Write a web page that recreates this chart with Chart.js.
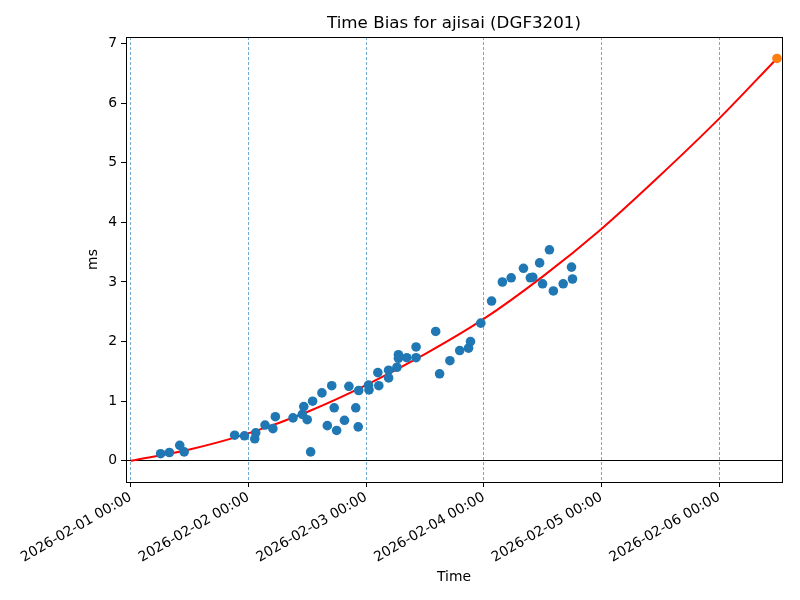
<!DOCTYPE html>
<html>
<head>
<meta charset="utf-8">
<title>Time Bias for ajisai (DGF3201)</title>
<script src="https://cdn.jsdelivr.net/npm/chart.js@4.4.1/dist/chart.umd.min.js"></script>
<style>
  html, body { margin: 0; padding: 0; background: #fff; }
  #wrap { width: 800px; height: 600px; }
</style>
</head>
<body>
<div id="wrap"><canvas id="biasChart" width="800" height="600"></canvas></div>
<script>
// observation times, hours since 2026-02-01 00:00 (UTC)
const obsHours = [6.1, 7.9, 10.0, 10.9, 21.2, 23.2, 25.3, 25.5, 27.4, 29.0,
    29.5, 33.1, 35.0, 35.3, 36.0, 36.7, 37.1, 39.0, 40.1, 41.0,
    41.5, 42.0, 43.6, 44.5, 45.9, 46.4, 46.5, 48.5, 48.6, 50.4,
    50.6, 52.6, 52.6, 54.3, 54.6, 54.6, 56.3, 58.2, 58.2, 62.2,
    63.0, 65.1, 67.1, 68.9, 69.3, 71.4, 73.6, 75.8, 77.6, 80.1,
    81.5, 82.0, 83.4, 84.0, 85.4, 86.2, 88.2, 89.9, 90.1];
// measured time bias (ms)
const obsBiasMs = [0.12, 0.14, 0.26, 0.15, 0.43, 0.42, 0.37, 0.47, 0.60, 0.54,
    0.74, 0.72, 0.78, 0.91, 0.69, 0.15, 1.00, 1.14, 0.59, 1.26,
    0.89, 0.51, 0.68, 1.25, 0.89, 0.57, 1.18, 1.27, 1.19, 1.48,
    1.26, 1.52, 1.39, 1.57, 1.78, 1.72, 1.73, 1.91, 1.73, 2.17,
    1.46, 1.68, 1.85, 1.89, 2.00, 2.31, 2.68, 3.00, 3.07, 3.23,
    3.07, 3.08, 3.32, 2.97, 3.54, 2.85, 2.97, 3.25, 3.05];

// fitted trend (red curve)
const fitHours = [0, 12, 24, 36, 48, 60, 72, 84, 96, 108, 120, 131.8];
const fitBiasMs = [0, 0.19, 0.46, 0.82, 1.27, 1.79, 2.38, 3.09, 3.89, 4.79, 5.74, 6.75];

// predicted value at end of trend
const predHours = [131.8];
const predBiasMs = [6.75];

const dayTicks = [0, 24, 48, 72, 96, 120];
const msTicks = [0, 1, 2, 3, 4, 5, 6, 7];

const FONT = "'DejaVu Sans', sans-serif";

function toPoints(xs, ys) {
    return xs.map((x, i) => ({ x: x, y: ys[i] }));
}

function fmtTime(h) {
    const d = new Date(Date.UTC(2026, 1, 1) + h * 3600000);
    const p = n => String(n).padStart(2, '0');
    return d.getUTCFullYear() + '-' + p(d.getUTCMonth() + 1) + '-' + p(d.getUTCDate()) +
        ' ' + p(d.getUTCHours()) + ':' + p(d.getUTCMinutes());
}

// black box round the plot area, like the axes spines
// also centres the title over the plot area instead of the canvas
const framePlugin = {
    id: 'frame',
    afterLayout(chart) {
        if (chart.titleBlock) {
            chart.titleBlock.left = chart.chartArea.left;
            chart.titleBlock.right = chart.chartArea.right;
        }
    },
    afterDraw(chart) {
        const a = chart.chartArea;
        const ctx = chart.ctx;
        ctx.save();
        ctx.strokeStyle = '#000';
        ctx.lineWidth = 1;
        ctx.strokeRect(Math.round(a.left) + 0.5, Math.round(a.top) + 0.5,
            Math.round(a.right - a.left), Math.round(a.bottom - a.top));
        ctx.restore();
    }
};

new Chart(document.getElementById('biasChart'), {
    type: 'scatter',
    data: {
        datasets: [
            {
                label: 'fit',
                data: toPoints(fitHours, fitBiasMs),
                showLine: true,
                borderColor: '#ff0000',
                borderWidth: 2,
                pointRadius: 0,
                cubicInterpolationMode: 'monotone',
                order: 3
            },
            {
                label: 'observed',
                data: toPoints(obsHours, obsBiasMs),
                backgroundColor: '#1f77b4',
                borderColor: '#1f77b4',
                borderWidth: 0,
                pointRadius: 4.8,
                order: 2
            },
            {
                label: 'predicted',
                data: toPoints(predHours, predBiasMs),
                backgroundColor: '#ff7f0e',
                borderColor: '#ff7f0e',
                borderWidth: 0,
                pointRadius: 4.8,
                order: 1
            }
        ]
    },
    options: {
        responsive: false,
        animation: false,
        devicePixelRatio: 1,
        layout: { padding: { left: 0, right: 18, top: 0, bottom: 0 } },
        plugins: {
            legend: { display: false },
            tooltip: { enabled: false },
            title: {
                display: true,
                text: 'Time Bias for ajisai (DGF3201)',
                color: '#000',
                font: { family: FONT, size: 16.7, weight: 'normal' },
                padding: { top: 14, bottom: 3 }
            }
        },
        scales: {
            x: {
                type: 'linear',
                min: -0.958,
                max: 132.83,
                afterFit: s => { s.height = 118; },
                afterBuildTicks: s => { s.ticks = dayTicks.map(v => ({ value: v })); },
                border: { display: false, dash: [3, 2] },
                grid: {
                    color: 'rgba(31,119,180,0.8)',
                    lineWidth: 0.8,
                    tickColor: '#000',
                    tickWidth: 1,
                    tickLength: 5,
                    tickBorderDash: []
                },
                ticks: {
                    autoSkip: false,
                    minRotation: 30,
                    maxRotation: 30,
                    padding: 2,
                    color: '#000',
                    font: { family: FONT, size: 13.9 },
                    callback: v => fmtTime(v)
                },
                title: {
                    display: true,
                    text: 'Time',
                    color: '#000',
                    font: { family: FONT, size: 13.9 },
                    padding: { top: 0, bottom: 14.6 }
                }
            },
            y: {
                min: -0.355,
                max: 7.109,
                afterFit: s => { s.width = 126; },
                afterBuildTicks: s => { s.ticks = msTicks.map(v => ({ value: v })); },
                border: { display: false },
                grid: {
                    color: ctx => (ctx.tick && ctx.tick.value === 0) ? '#000' : 'rgba(0,0,0,0)',
                    lineWidth: 1,
                    tickColor: '#000',
                    tickWidth: 1,
                    tickLength: 5
                },
                ticks: {
                    padding: 4,
                    color: '#000',
                    font: { family: FONT, size: 13.9 },
                    callback: v => String(v)
                },
                title: {
                    display: true,
                    text: 'ms',
                    color: '#000',
                    font: { family: FONT, size: 13.9 },
                    padding: { top: 84.6, bottom: 0 }
                }
            }
        }
    },
    plugins: [framePlugin]
});
</script>
</body>
</html>
